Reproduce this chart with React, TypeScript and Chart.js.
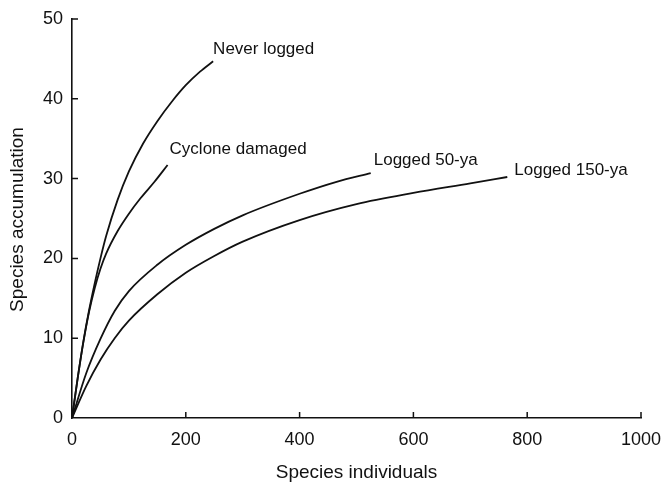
import React, { useEffect, useRef } from "react";
import { Chart, registerables } from "chart.js";

Chart.register(...registerables);

// ---- data ----
const seriesNames = ["Never logged", "Cyclone damaged", "Logged 50-ya", "Logged 150-ya"];

const neverX = [0, 10, 20, 30, 40, 50, 60, 80, 100, 125, 150, 175, 200, 225, 248];
const neverY = [0, 5.0, 9.6, 13.5, 16.9, 20.0, 22.8, 27.3, 30.9, 34.4, 37.2, 39.6, 41.7, 43.4, 44.7];

const cycloneX = [0, 10, 20, 30, 40, 50, 60, 80, 100, 120, 145, 168];
const cycloneY = [0, 5.0, 9.5, 13.3, 16.3, 18.7, 20.6, 23.4, 25.6, 27.5, 29.6, 31.7];

const logged50X = [0, 25, 50, 75, 100, 150, 200, 250, 300, 400, 465, 525];
const logged50Y = [0, 5.6, 9.9, 13.4, 15.9, 19.2, 21.7, 23.7, 25.4, 28.1, 29.6, 30.7];

const logged150X = [0, 25, 50, 75, 100, 150, 200, 250, 300, 400, 500, 600, 700, 765];
const logged150Y = [0, 4.0, 7.3, 10.0, 12.2, 15.5, 18.2, 20.3, 22.1, 24.8, 26.8, 28.2, 29.4, 30.2];

const xTicks = [0, 200, 400, 600, 800, 1000];
const yTicks = [0, 10, 20, 30, 40, 50];

const xTitle = "Species individuals";
const yTitle = "Species accumulation";

// label offsets (pixels) from each curve's last point
const labelOffsets = [
  [0, -7],
  [2, -11],
  [3, -8],
  [7, -2],
];

const FONT = '"Liberation Sans", Arial, Helvetica, sans-serif';
const INK = "#111";

function toPoints(xs: number[], ys: number[]) {
  return xs.map((x, i) => ({ x, y: ys[i] }));
}

const annotatePlugin = {
  id: "annotate",
  afterDraw(chart: any) {
    const ctx = chart.ctx;
    const xs = chart.scales.x;
    const ys = chart.scales.y;
    const area = chart.chartArea;
    ctx.save();
    // inward ticks
    ctx.strokeStyle = INK;
    ctx.lineWidth = 1.5;
    ctx.beginPath();
    xTicks.forEach((v) => {
      if (v === 0) return;
      const px = xs.getPixelForValue(v);
      ctx.moveTo(px, area.bottom);
      ctx.lineTo(px, area.bottom - 6);
    });
    yTicks.forEach((v) => {
      if (v === 0) return;
      const py = ys.getPixelForValue(v);
      ctx.moveTo(area.left, py);
      ctx.lineTo(area.left + 6, py);
    });
    ctx.stroke();

    // curve labels
    ctx.fillStyle = INK;
    ctx.font = `17px ${FONT}`;
    ctx.textAlign = "left";
    ctx.textBaseline = "alphabetic";
    chart.data.datasets.forEach((ds: any, i: number) => {
      const last = ds.data[ds.data.length - 1];
      const px = xs.getPixelForValue(last.x);
      const py = ys.getPixelForValue(last.y);
      ctx.fillText(seriesNames[i], px + labelOffsets[i][0], py + labelOffsets[i][1]);
    });

    // axis titles
    ctx.font = `19px ${FONT}`;
    ctx.textAlign = "center";
    ctx.textBaseline = "middle";
    ctx.fillText(xTitle, (area.left + area.right) / 2, 473);
    ctx.translate(17.5, (area.top + area.bottom) / 2 + 1);
    ctx.rotate(-Math.PI / 2);
    ctx.fillText(yTitle, 0, 0);
    ctx.restore();
  },
};

export default function App() {
  const ref = useRef<HTMLCanvasElement | null>(null);

  useEffect(() => {
    if (!ref.current) return;
    const series = [
      toPoints(neverX, neverY),
      toPoints(cycloneX, cycloneY),
      toPoints(logged50X, logged50Y),
      toPoints(logged150X, logged150Y),
    ];
    const chart = new Chart(ref.current, {
      type: "scatter",
      data: {
        datasets: series.map((d, i) => ({
          label: seriesNames[i],
          data: d,
          showLine: true,
          borderColor: INK,
          borderWidth: 1.8,
          pointRadius: 0,
          pointHoverRadius: 0,
          cubicInterpolationMode: "monotone" as const,
          fill: false,
        })),
      },
      options: {
        animation: false,
        responsive: false,
        events: [],
        layout: { padding: { left: 0, top: 19, right: 22, bottom: 0 } },
        plugins: {
          legend: { display: false },
          tooltip: { enabled: false },
          title: { display: false },
        },
        scales: {
          x: {
            type: "linear",
            min: 0,
            max: 1000,
            afterBuildTicks: (s: any) => {
              s.ticks = xTicks.map((v) => ({ value: v }));
            },
            afterFit: (s: any) => {
              s.height = 67;
              s.paddingLeft = 0;
              s.paddingRight = 0;
            },
            grid: { display: false, drawTicks: false },
            border: { display: true, color: INK, width: 1.6 },
            ticks: {
              padding: 11,
              color: INK,
              font: { family: FONT, size: 18 },
              maxRotation: 0,
              callback: (v: any) => String(v),
            },
          },
          y: {
            type: "linear",
            min: 0,
            max: 50,
            afterBuildTicks: (s: any) => {
              s.ticks = yTicks.map((v) => ({ value: v }));
            },
            afterFit: (s: any) => {
              s.width = 72;
              s.paddingTop = 0;
              s.paddingBottom = 0;
            },
            grid: { display: false, drawTicks: false },
            border: { display: true, color: INK, width: 1.6 },
            ticks: {
              padding: 9,
              color: INK,
              font: { family: FONT, size: 18 },
              callback: (v: any) => String(v),
            },
          },
        },
      },
      plugins: [annotatePlugin],
    });
    return () => chart.destroy();
  }, []);

  return (
    <div style={{ position: "fixed", left: 0, top: 0, width: 663, height: 485, background: "#fff" }}>
      <canvas ref={ref} width={663} height={485} style={{ display: "block" }} />
    </div>
  );
}
